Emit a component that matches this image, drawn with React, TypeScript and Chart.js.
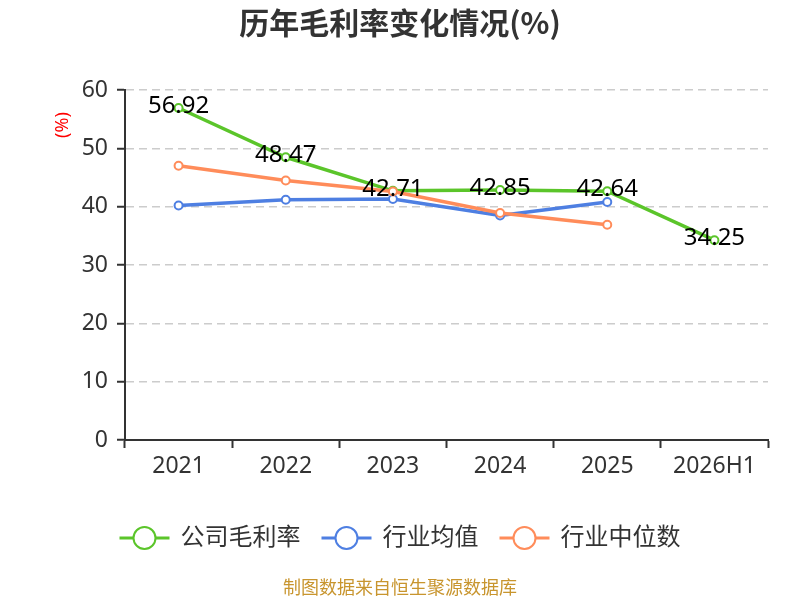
import { useEffect, useRef } from "react"
import { Chart, registerables } from "chart.js"
import type { Plugin } from "chart.js"

Chart.register(...registerables)

const FONT = "'Noto Sans', 'Noto Sans CJK SC', sans-serif"

const years = ["2021", "2022", "2023", "2024", "2025", "2026H1"]
const companyMargin = [56.92, 48.47, 42.71, 42.85, 42.64, 34.25]
const industryAvg = [40.2, 41.2, 41.3, 38.5, 40.8, null]
const industryMedian = [47.0, 44.5, 42.6, 38.9, 36.9, null]
const yTicks = [0, 10, 20, 30, 40, 50, 60]

const seriesNames = ["公司毛利率", "行业均值", "行业中位数"]
const seriesColors = ["#5BC52A", "#4E7FE2", "#FF8C5A"]

const chartTitle = "历年毛利率变化情况(%)"
const yUnit = "(%)"
const footer = "制图数据来自恒生聚源数据库"

// title, unit label, value labels, legend and footer drawn on the canvas
const decorations: Plugin<"line"> = {
  id: "decorations",
  afterDatasetsDraw(chart) {
    const ctx = chart.ctx
    ctx.save()

    // value labels on the company series
    const meta = chart.getDatasetMeta(0)
    ctx.font = `24px ${FONT}`
    ctx.fillStyle = "#000"
    ctx.textAlign = "center"
    ctx.textBaseline = "middle"
    meta.data.forEach((pt, i) => {
      ctx.fillText(companyMargin[i].toFixed(2), pt.x, pt.y - 2)
    })
    ctx.restore()
  },
  afterDraw(chart) {
    const ctx = chart.ctx
    ctx.save()

    ctx.font = `bold 30px 'Noto Sans CJK SC', sans-serif`
    ctx.fillStyle = "#333"
    ctx.textAlign = "center"
    ctx.textBaseline = "middle"
    ctx.fillText(chartTitle, 400, 23)

    ctx.save()
    ctx.translate(63, 125)
    ctx.rotate(-Math.PI / 2)
    ctx.font = `18px ${FONT}`
    ctx.fillStyle = "#f00"
    ctx.fillText(yUnit, 0, 0)
    ctx.restore()

    // legend
    ctx.font = `24px ${FONT}`
    const lineW = 50
    const textGap = 11
    const itemGap = 21
    const widths = seriesNames.map((n) => lineW + textGap + ctx.measureText(n).width)
    const total = widths.reduce((a, b) => a + b, 0) + itemGap * (widths.length - 1)
    let x = 400 - total / 2
    const ly = 538
    seriesNames.forEach((name, i) => {
      ctx.strokeStyle = seriesColors[i]
      ctx.lineWidth = 3
      ctx.beginPath()
      ctx.moveTo(x, ly)
      ctx.lineTo(x + lineW, ly)
      ctx.stroke()
      ctx.beginPath()
      ctx.arc(x + lineW / 2, ly, 11, 0, Math.PI * 2)
      ctx.fillStyle = "#fff"
      ctx.fill()
      ctx.lineWidth = 2
      ctx.stroke()
      ctx.fillStyle = "#333"
      ctx.textAlign = "left"
      ctx.fillText(name, x + lineW + textGap, ly)
      x += widths[i] + itemGap
    })

    ctx.font = `18px ${FONT}`
    ctx.fillStyle = "#C8952E"
    ctx.textAlign = "center"
    ctx.fillText(footer, 400, 589)

    ctx.restore()
  },
}

export default function App() {
  const chartRef = useRef<HTMLCanvasElement>(null)
  const chartInstance = useRef<Chart | null>(null)

  useEffect(() => {
    if (!chartRef.current) return
    if (chartInstance.current) chartInstance.current.destroy()

    const ctx = chartRef.current.getContext("2d")
    if (!ctx) return

    const lineSet = (label: string, data: (number | null)[], color: string, order: number) => ({
      label,
      data,
      borderColor: color,
      backgroundColor: "#fff",
      borderWidth: 3.5,
      pointRadius: 4,
      pointBorderWidth: 2,
      pointBackgroundColor: "#fff",
      pointBorderColor: color,
      tension: 0,
      order,
    })

    chartInstance.current = new Chart(ctx, {
      type: "line",
      data: {
        labels: years,
        datasets: [
          lineSet(seriesNames[0], companyMargin, seriesColors[0], 1),
          lineSet(seriesNames[1], industryAvg, seriesColors[1], 2),
          lineSet(seriesNames[2], industryMedian, seriesColors[2], 0),
        ],
      },
      options: {
        responsive: true,
        maintainAspectRatio: false,
        animation: false,
        layout: { padding: { top: 90, right: 32, left: 0, bottom: 0 } },
        plugins: {
          legend: { display: false },
          title: { display: false },
          tooltip: { enabled: false },
        },
        scales: {
          x: {
            offset: true,
            grid: {
              display: true,
              drawOnChartArea: false,
              offset: true,
              tickLength: 8,
              tickColor: "#333",
              tickWidth: 2,
            },
            border: { color: "#333", width: 2 },
            ticks: { color: "#333", font: { size: 23, family: FONT }, padding: 5, maxRotation: 0 },
            afterFit: (scale) => {
              scale.height = 160
            },
          },
          y: {
            min: yTicks[0],
            max: yTicks[yTicks.length - 1],
            afterBuildTicks: (scale) => {
              scale.ticks = yTicks.map((v) => ({ value: v }))
            },
            grid: {
              color: "#ccc",
              lineWidth: 1.5,
              tickLength: 8,
              tickColor: "#333",
              tickWidth: 2,
              tickBorderDash: [],
            },
            border: { color: "#333", width: 2, dash: [8, 5] },
            ticks: { color: "#333", font: { size: 23, family: FONT }, padding: 9 },
            afterFit: (scale) => {
              scale.width = 125
            },
          },
        },
      },
      plugins: [decorations],
    })

    return () => {
      if (chartInstance.current) {
        chartInstance.current.destroy()
        chartInstance.current = null
      }
    }
  }, [])

  return (
    <div style={{ position: "fixed", left: 0, top: 0, width: 800, height: 600, background: "#fff" }}>
      <canvas ref={chartRef}></canvas>
    </div>
  )
}
